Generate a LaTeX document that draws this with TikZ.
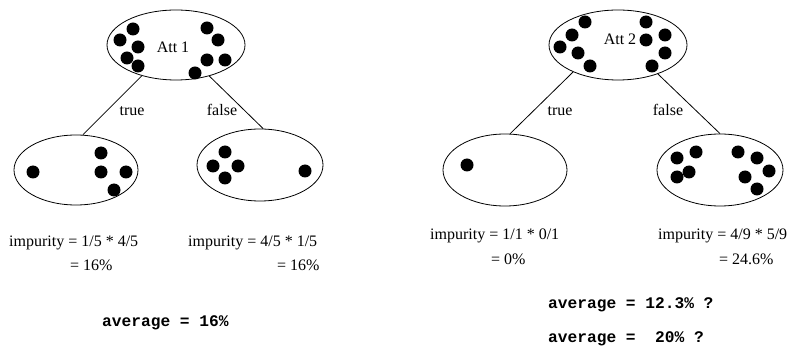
\documentclass[tikz,border=0pt]{standalone}
\usepackage{fontspec}
\setmainfont{Liberation Serif}
\setmonofont{Liberation Mono}
\usetikzlibrary{shapes.geometric}
\begin{document}
\begin{tikzpicture}[x=1pt,y=-1pt,
  set/.style={draw,ellipse,line width=0.8pt,inner sep=0pt},
  dot/.style={fill=black},
  txt/.style={anchor=base west,inner sep=0pt,font=\fontsize{16}{19}\selectfont},
  lbl/.style={anchor=base,inner sep=0pt,font=\fontsize{16}{19}\selectfont},
  avg/.style={anchor=base west,inner sep=0pt,font=\fontsize{16.2}{19}\selectfont\ttfamily\bfseries},
  edge/.style={line width=0.8pt}]
\useasboundingbox (0,0) rectangle (792,347);
% --- left tree ---
\node[set,minimum width=138pt,minimum height=70pt] (t1) at (176,45) {};
\node[set,minimum width=124pt,minimum height=70pt] (l1) at (76,170) {};
\node[set,minimum width=126pt,minimum height=72pt] (r1) at (260,165) {};
\node[lbl] (att1) at (173,53) {Att 1};
\foreach \p in {(133,29),(120,40),(138,47),(127,58),(138,66),(207,28),(218,40),(207,60),(225,60),(195,73)}
  \fill[dot] \p circle[radius=6.5];
\foreach \p in {(33,172),(101,153),(101,172),(126,172),(114,190)}
  \fill[dot] \p circle[radius=6.5];
\foreach \p in {(225,152),(213,166),(238,166),(225,178),(305,171)}
  \fill[dot] \p circle[radius=6.5];
\draw[edge] (t1.222) -- (l1.79);
\draw[edge] (t1.317) -- (r1.85);
\node[lbl] (true1) at (132,116) {true};
\node[lbl] (false1) at (222,116) {false};
\node[txt] (imp1) at (9,247) {impurity = 1/5 * 4/5};
\node[txt] (res1) at (70,271) {= 16\%};
\node[txt] (imp2) at (188,247) {impurity = 4/5 * 1/5};
\node[txt] (res2) at (277,271) {= 16\%};
\node[avg] (avg1) at (102,326) {average = 16\%};
% --- right tree ---
\node[set,minimum width=138pt,minimum height=70pt] (t2) at (618,45) {};
\node[set,minimum width=124pt,minimum height=72pt] (l2) at (505,170) {};
\node[set,minimum width=126pt,minimum height=72pt] (r2) at (720,170) {};
\node[lbl] (att2) at (620,45) {Att 2};
\foreach \p in {(585,22),(572,35),(560,47),(578,53),(590,66),(646,22),(665,35),(646,40),(665,53),(652,66)}
  \fill[dot] \p circle[radius=6.5];
\fill[dot] (467,165) circle[radius=6.5];
\foreach \p in {(677,158),(696,152),(677,177),(689,172),(738,152),(757,158),(769,171),(745,177),(757,189)}
  \fill[dot] \p circle[radius=6.5];
\draw[edge] (t2.211) -- (l2.82);
\draw[edge] (t2.324) -- (r2.90);
\node[lbl] (true2) at (560,116) {true};
\node[lbl] (false2) at (668,116) {false};
\node[txt] (imp3) at (430,240) {impurity = 1/1 * 0/1};
\node[txt] (res3) at (491,265) {= 0\%};
\node[txt] (imp4) at (658,240) {impurity = 4/9 * 5/9};
\node[txt] (res4) at (719,265) {= 24.6\%};
\node[avg] (avg2) at (548,308) {average = 12.3\% ?};
\node[avg] (avg3) at (548,342) {average =\ \ 20\% ?};
\end{tikzpicture}
\end{document}
